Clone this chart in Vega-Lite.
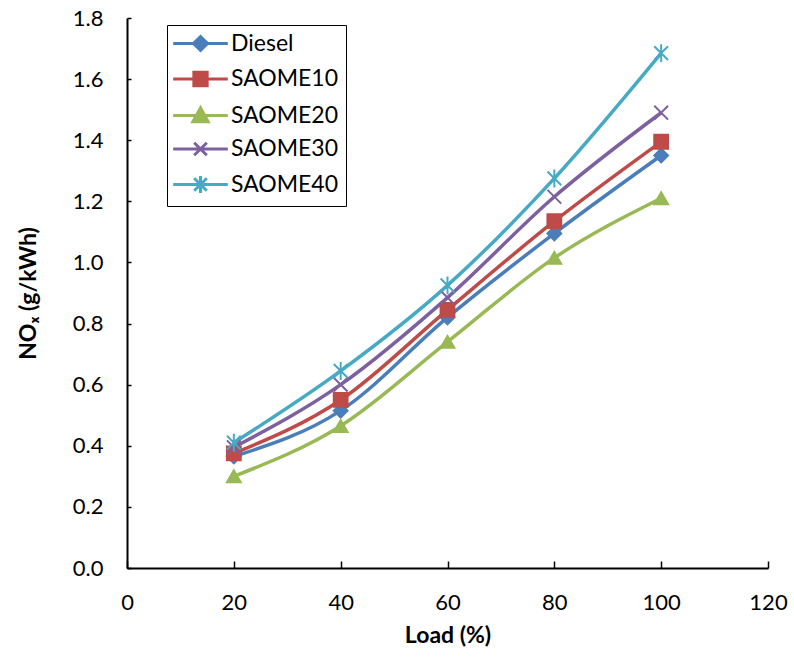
{
  "$schema": "https://vega.github.io/schema/vega-lite/v6.json",
  "width": 641,
  "height": 550,
  "autosize": "none",
  "padding": {"left": 127, "top": 18, "right": 26, "bottom": 89},
  "config": {"view": {"stroke": null}, "font": "Lato"},
  "data": {
    "values": [
      {"load": 20, "fuel": "Diesel", "nox": 0.365},
      {"load": 40, "fuel": "Diesel", "nox": 0.515},
      {"load": 60, "fuel": "Diesel", "nox": 0.82},
      {"load": 80, "fuel": "Diesel", "nox": 1.095},
      {"load": 100, "fuel": "Diesel", "nox": 1.35},
      {"load": 20, "fuel": "SAOME10", "nox": 0.375},
      {"load": 40, "fuel": "SAOME10", "nox": 0.55},
      {"load": 60, "fuel": "SAOME10", "nox": 0.845},
      {"load": 80, "fuel": "SAOME10", "nox": 1.135},
      {"load": 100, "fuel": "SAOME10", "nox": 1.395},
      {"load": 20, "fuel": "SAOME20", "nox": 0.3},
      {"load": 40, "fuel": "SAOME20", "nox": 0.465},
      {"load": 60, "fuel": "SAOME20", "nox": 0.74},
      {"load": 80, "fuel": "SAOME20", "nox": 1.015},
      {"load": 100, "fuel": "SAOME20", "nox": 1.21},
      {"load": 20, "fuel": "SAOME30", "nox": 0.395},
      {"load": 40, "fuel": "SAOME30", "nox": 0.6},
      {"load": 60, "fuel": "SAOME30", "nox": 0.885},
      {"load": 80, "fuel": "SAOME30", "nox": 1.215},
      {"load": 100, "fuel": "SAOME30", "nox": 1.49},
      {"load": 20, "fuel": "SAOME40", "nox": 0.41},
      {"load": 40, "fuel": "SAOME40", "nox": 0.645},
      {"load": 60, "fuel": "SAOME40", "nox": 0.925},
      {"load": 80, "fuel": "SAOME40", "nox": 1.275},
      {"load": 100, "fuel": "SAOME40", "nox": 1.685}
    ]
  },
  "layer": [
    {
      "mark": {"type": "line", "interpolate": "monotone", "strokeWidth": 3.5},
      "encoding": {
        "x": {
          "field": "load", "type": "quantitative",
          "scale": {"domain": [0, 120], "nice": false, "zero": false},
          "axis": {
            "values": [0, 20, 40, 60, 80, 100, 120], "title": "Load (%)", "grid": false,
            "ticks": false, "labelPadding": 24, "domainColor": "black", "domainWidth": 2,
            "labelFontSize": 22, "labelColor": "black",
            "titleFontSize": 23, "titleFontWeight": "bold", "titleColor": "black", "titlePadding": 11,
            "labelFlush": false, "labelFont": "Lato", "titleFont": "Lato"
          }
        },
        "y": {
          "field": "nox", "type": "quantitative",
          "scale": {"domain": [0, 1.8], "nice": false},
          "axis": {
            "values": [0, 0.2, 0.4, 0.6, 0.8, 1.0, 1.2, 1.4, 1.6, 1.8], "format": ".1f",
            "title": "NOₓ (g/kWh)", "grid": false,
            "ticks": false, "labelPadding": 24, "domainColor": "black", "domainWidth": 2,
            "labelFontSize": 22, "labelColor": "black",
            "titleFontSize": 23, "titleFontWeight": "bold", "titleColor": "black", "titlePadding": 32,
            "labelFlush": false, "labelFont": "Lato", "titleFont": "Lato"
          }
        },
        "color": {
          "field": "fuel", "type": "nominal",
          "scale": {"domain": ["Diesel", "SAOME10", "SAOME20", "SAOME30", "SAOME40"], "range": ["#4A7EBB", "#BE4B48", "#98B954", "#7D60A0", "#46AAC5"]},
          "legend": null
        }
      }
    },
    {
      "mark": {"type": "point", "filled": true, "size": 190, "strokeWidth": 2, "opacity": 1},
      "encoding": {
        "x": {"field": "load", "type": "quantitative", "axis": null},
        "y": {"field": "nox", "type": "quantitative", "axis": null},
        "color": {
          "field": "fuel", "type": "nominal",
          "scale": {"domain": ["Diesel", "SAOME10", "SAOME20", "SAOME30", "SAOME40"], "range": ["#4A7EBB", "#BE4B48", "#98B954", "#7D60A0", "#46AAC5"]},
          "legend": null
        },
        "stroke": {
          "field": "fuel", "type": "nominal",
          "scale": {"domain": ["Diesel", "SAOME10", "SAOME20", "SAOME30", "SAOME40"], "range": ["#4A7EBB", "#BE4B48", "#98B954", "#7D60A0", "#46AAC5"]},
          "legend": null
        },
        "shape": {
          "field": "fuel", "type": "nominal",
          "scale": {"domain": ["Diesel", "SAOME10", "SAOME20", "SAOME30", "SAOME40"], "range": ["diamond", "square", "triangle-up", "M-1,-1L1,1M-1,1L1,-1", "M-1,-1L1,1M-1,1L1,-1M0,-1.3L0,1.3"]},
          "legend": null
        }
      }
    },
    {
      "transform": [{"filter": "datum.load > 1000"}],
      "mark": {"type": "point", "filled": true, "size": 196, "strokeWidth": 3, "opacity": 1},
      "encoding": {
        "x": {
          "field": "load", "type": "quantitative",
          "axis": {
            "orient": "top", "offset": -550, "values": [0, 20, 40, 60, 80, 100, 120],
            "labels": false, "title": null, "domain": false, "grid": false,
            "ticks": true, "tickSize": 7, "tickColor": "black", "tickWidth": 1.5, "tickOpacity": 1
          }
        },
        "y": {
          "field": "nox", "type": "quantitative",
          "axis": {
            "orient": "right", "offset": -641, "values": [0, 0.2, 0.4, 0.6, 0.8, 1.0, 1.2, 1.4, 1.6, 1.8],
            "labels": false, "title": null, "domain": false, "grid": false,
            "ticks": true, "tickSize": 4, "tickColor": "black", "tickWidth": 1.5, "tickOpacity": 1
          }
        },
        "color": {
          "field": "fuel", "type": "nominal",
          "scale": {"domain": ["Diesel", "SAOME10", "SAOME20", "SAOME30", "SAOME40"], "range": ["#4A7EBB", "#BE4B48", "#98B954", "#7D60A0", "#46AAC5"]},
          "legend": {
            "orient": "none", "legendX": 40, "legendY": 7, "title": null,
            "strokeColor": "black", "padding": 7, "fillColor": "white",
            "labelFontSize": 23, "labelColor": "black", "labelFont": "Lato",
            "symbolSize": 196, "symbolStrokeWidth": 3, "symbolOffset": 15, "labelOffset": 19,
            "rowPadding": 8.5, "symbolOpacity": 1
          }
        },
        "stroke": {
          "field": "fuel", "type": "nominal",
          "scale": {"domain": ["Diesel", "SAOME10", "SAOME20", "SAOME30", "SAOME40"], "range": ["#4A7EBB", "#BE4B48", "#98B954", "#7D60A0", "#46AAC5"]},
          "legend": {
            "orient": "none", "legendX": 40, "legendY": 7, "title": null,
            "strokeColor": "black", "padding": 7, "fillColor": "white",
            "labelFontSize": 23, "labelColor": "black", "labelFont": "Lato",
            "symbolSize": 196, "symbolStrokeWidth": 3, "symbolOffset": 15, "labelOffset": 19,
            "rowPadding": 8.5, "symbolOpacity": 1
          }
        },
        "shape": {
          "field": "fuel", "type": "nominal",
          "scale": {"domain": ["Diesel", "SAOME10", "SAOME20", "SAOME30", "SAOME40"], "range": [
            "M-3.9,0L3.9,0M0,-1L1,0L0,1L-1,0Z",
            "M-3.9,0L3.9,0M-0.95,-0.95L0.95,-0.95L0.95,0.95L-0.95,0.95Z",
            "M-3.9,0L3.9,0M0,-1.1L1.1,0.9L-1.1,0.9Z",
            "M-3.9,0L3.9,0M-0.9,-0.9L0.9,0.9M-0.9,0.9L0.9,-0.9",
            "M-3.9,0L3.9,0M-0.9,-0.9L0.9,0.9M-0.9,0.9L0.9,-0.9M0,-1.2L0,1.2"
          ]},
          "legend": {
            "orient": "none", "legendX": 40, "legendY": 7, "title": null,
            "strokeColor": "black", "padding": 7, "fillColor": "white",
            "labelFontSize": 23, "labelColor": "black", "labelFont": "Lato",
            "symbolSize": 196, "symbolStrokeWidth": 3, "symbolOffset": 15, "labelOffset": 19,
            "rowPadding": 8.5, "symbolOpacity": 1
          }
        }
      }
    }
  ],
  "resolve": {
    "scale": {"shape": "independent", "color": "independent", "stroke": "independent"},
    "axis": {"x": "independent", "y": "independent"}
  }
}
